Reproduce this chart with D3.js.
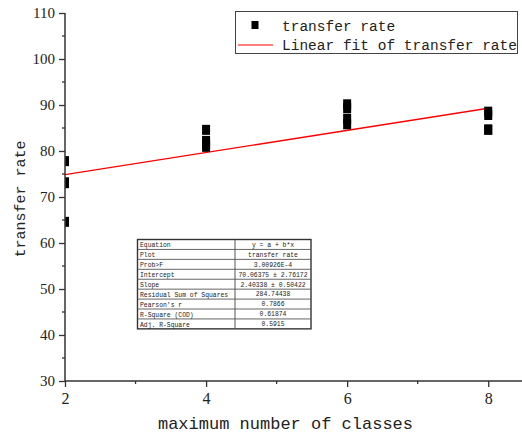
<!DOCTYPE html>
<html>
<head>
<meta charset="utf-8">
<script src="https://cdn.jsdelivr.net/npm/d3@7"></script>
<style>
  html, body { margin: 0; padding: 0; background: #fff; }
  svg { display: block; }
</style>
</head>
<body>
<svg id="chart" width="522" height="437"></svg>
<script>
// Measured transfer rate for each maximum number of classes
const classCounts = [2, 2, 2, 2, 4, 4, 4, 4, 6, 6, 6, 6, 8, 8, 8, 8];
const transferRates = [77.8, 73.2, 73.0, 64.6, 84.6, 82.2, 81.5, 80.9,
                       90.15, 89.3, 87.0, 85.8, 88.55, 87.83, 84.7, 84.6];

// Linear fit parameters (y = a + b*x)
const fitIntercept = 70.06375;
const fitSlope = 2.40338;
const fitRange = [2, 8];

const xTicks = [2, 4, 6, 8];
const xMinorTicks = [3, 5, 7];
const yTicks = [30, 40, 50, 60, 70, 80, 90, 100, 110];
const yMinorTicks = [35, 45, 55, 65, 75, 85, 95, 105];

const statLabels = ["Equation", "Plot", "Prob>F", "Intercept", "Slope",
                    "Residual Sum of Squares", "Pearson's r", "R-Square (COD)", "Adj. R-Square"];
const statValues = ["y = a + b*x", "transfer rate", "3.00926E-4", "70.06375 \u00B1 2.76172",
                    "2.40338 \u00B1 0.50422", "284.74438", "0.7866", "0.61874", "0.5915"];

const svg = d3.select("#chart");
const plotLeft = 65, plotRight = 523.5, plotTop = 13, plotBottom = 381;

const x = d3.scaleLinear().domain([2, 8.5]).range([plotLeft, plotRight]);
const y = d3.scaleLinear().domain([30, 110]).range([plotBottom, plotTop]);

svg.append("defs").append("clipPath").attr("id", "plot-area")
  .append("rect").attr("x", plotLeft).attr("y", plotTop - 10)
  .attr("width", plotRight - plotLeft).attr("height", plotBottom - plotTop + 10);

const plot = svg.append("g").attr("clip-path", "url(#plot-area)");

// fit line
plot.append("line")
  .attr("x1", x(fitRange[0])).attr("y1", y(fitIntercept + fitSlope * fitRange[0]))
  .attr("x2", x(fitRange[1])).attr("y2", y(fitIntercept + fitSlope * fitRange[1]))
  .attr("stroke", "#ff0000").attr("stroke-width", 1.3);

// data markers
const mw = 8, mh = 10;
plot.selectAll("rect.pt")
  .data(classCounts.map((c, i) => [c, transferRates[i]]))
  .join("rect").attr("class", "pt")
  .attr("x", d => x(d[0]) - mw / 2).attr("y", d => y(d[1]) - mh / 2)
  .attr("width", mw).attr("height", mh).attr("fill", "#000");

// axes
const axisColor = "#333";
const yAxis = d3.axisLeft(y).tickValues(yTicks).tickSize(6).tickSizeOuter(0).tickPadding(4)
  .tickFormat(d3.format("d"));
const gy = svg.append("g").attr("transform", `translate(${plotLeft},0)`).call(yAxis);
gy.select(".domain").remove();
gy.selectAll(".tick line").attr("stroke", axisColor).attr("stroke-width", 1.3);
gy.selectAll(".tick text").attr("font-family", "Liberation Serif").attr("font-size", 15).attr("fill", "#222");
svg.append("g").selectAll("line").data(yMinorTicks).join("line")
  .attr("x1", plotLeft - 3).attr("x2", plotLeft).attr("y1", d => y(d)).attr("y2", d => y(d))
  .attr("stroke", axisColor).attr("stroke-width", 1.3);

const xAxis = d3.axisBottom(x).tickValues(xTicks).tickSize(6).tickSizeOuter(0).tickPadding(6)
  .tickFormat(d3.format("d"));
const gx = svg.append("g").attr("transform", `translate(0,${plotBottom})`).call(xAxis);
gx.select(".domain").remove();
gx.selectAll(".tick line").attr("stroke", axisColor).attr("stroke-width", 1.3);
gx.selectAll(".tick text").attr("font-family", "Liberation Serif").attr("font-size", 16).attr("fill", "#222");
svg.append("g").selectAll("line").data(xMinorTicks).join("line")
  .attr("x1", d => x(d)).attr("x2", d => x(d)).attr("y1", plotBottom).attr("y2", plotBottom + 3)
  .attr("stroke", axisColor).attr("stroke-width", 1.3);

svg.append("line").attr("x1", plotLeft).attr("x2", plotLeft).attr("y1", plotTop).attr("y2", plotBottom)
  .attr("stroke", axisColor).attr("stroke-width", 1.5);
svg.append("line").attr("x1", plotLeft).attr("x2", plotRight).attr("y1", plotBottom).attr("y2", plotBottom)
  .attr("stroke", axisColor).attr("stroke-width", 1.5);

// axis titles
svg.append("text").attr("x", (plotLeft + 488) / 2 + 9).attr("y", 429)
  .attr("text-anchor", "middle").attr("font-family", "Liberation Mono").attr("font-size", 17)
  .attr("fill", "#222").text("maximum number of classes");
svg.append("text").attr("transform", `translate(25,${(plotTop + plotBottom) / 2 + 2}) rotate(-90)`)
  .attr("text-anchor", "middle").attr("font-family", "Liberation Mono").attr("font-size", 15)
  .attr("fill", "#222").text("transfer rate");

// legend
const lg = svg.append("g");
lg.append("rect").attr("x", 235.5).attr("y", 11.5).attr("width", 282).attr("height", 42)
  .attr("fill", "#fff").attr("stroke", "#444").attr("stroke-width", 1);
lg.append("rect").attr("x", 251.5).attr("y", 21).attr("width", 7).attr("height", 8).attr("fill", "#000");
lg.append("text").attr("x", 282).attr("y", 31).attr("font-family", "Liberation Mono")
  .attr("font-size", 14.5).attr("fill", "#222").text("transfer rate");
lg.append("line").attr("x1", 238).attr("x2", 273).attr("y1", 45).attr("y2", 45)
  .attr("stroke", "#ff0000").attr("stroke-width", 1.2);
lg.append("text").attr("x", 282).attr("y", 50).attr("font-family", "Liberation Mono")
  .attr("font-size", 14.5).attr("fill", "#222").text("Linear fit of transfer rate");

// statistics table
const tx = 137.5, ty = 239.5, tw = 173.5, rowH = 9.93, splitX = 235;
const tbl = svg.append("g");
tbl.append("rect").attr("x", tx).attr("y", ty).attr("width", tw).attr("height", rowH * statLabels.length)
  .attr("fill", "#fff").attr("stroke", "#333").attr("stroke-width", 1.4);
tbl.append("line").attr("x1", splitX).attr("x2", splitX).attr("y1", ty).attr("y2", ty + rowH * statLabels.length)
  .attr("stroke", "#555").attr("stroke-width", 1);
tbl.selectAll("line.row").data(d3.range(1, statLabels.length)).join("line").attr("class", "row")
  .attr("x1", tx).attr("x2", tx + tw).attr("y1", i => ty + i * rowH).attr("y2", i => ty + i * rowH)
  .attr("stroke", "#555").attr("stroke-width", 0.9);
tbl.selectAll("text.lab").data(statLabels).join("text").attr("class", "lab")
  .attr("x", tx + 2.5).attr("y", (d, i) => ty + i * rowH + 7.6)
  .attr("font-family", "Liberation Mono").attr("font-size", 6.4).attr("fill", "#222").text(d => d);
tbl.selectAll("text.val").data(statValues).join("text").attr("class", "val")
  .attr("x", (splitX + tx + tw) / 2).attr("y", (d, i) => ty + i * rowH + 7.3)
  .attr("text-anchor", "middle")
  .attr("font-family", "Liberation Mono").attr("font-size", 6.4).attr("fill", "#222").text(d => d);
</script>
</body>
</html>
